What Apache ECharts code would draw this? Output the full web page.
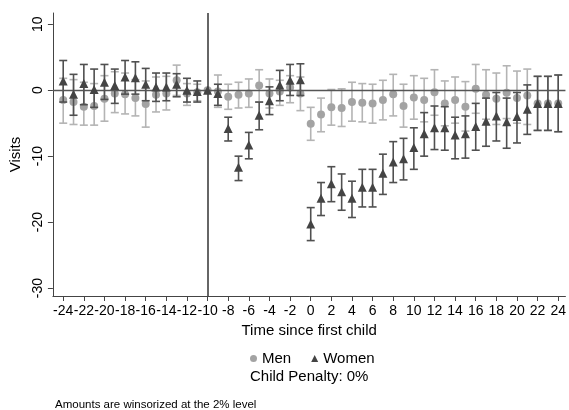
<!DOCTYPE html>
<html>
<head>
<meta charset="utf-8">
<script src="https://cdn.jsdelivr.net/npm/echarts@6/dist/echarts.min.js"></script>
<style>
  html, body { margin: 0; padding: 0; background: #fff; }
  #main { width: 569px; height: 410px; }
</style>
</head>
<body>
<div id="main"></div>
<script>
// periods relative to first child
var periods = [-24,-23,-22,-21,-20,-19,-18,-17,-16,-15,-14,-13,-12,-11,-10,-9,-8,-7,-6,-5,-4,-3,-2,-1,
  0,1,2,3,4,5,6,7,8,9,10,11,12,13,14,15,16,17,18,19,20,21,22,23,24];

// men: estimate and 95% interval
var menVal = [-1.5,-1.8,-2.5,-2.4,-1.3,-0.5,-0.6,-1.2,-2.1,-0.7,-0.5,1.5,-0.5,-0.3,0,-0.2,-1.0,-0.7,-0.5,0.7,-0.5,-0.2,0.4,-0.5,
  -5.1,-3.7,-2.6,-2.7,-1.8,-1.9,-2.0,-1.5,-0.6,-2.4,-1.1,-1.5,-0.3,-2.0,-1.5,-2.5,0.2,-0.7,-1.3,-0.4,-1.2,-0.8,-2.0,-2.0,-2.0];
var menLo = [-5.0,-5.2,-5.3,-5.3,-4.7,-3.4,-3.6,-3.9,-5.6,-3.3,-3.0,-0.8,-2.3,-1.6,null,-2.6,-2.9,-2.7,-2.6,-1.8,-2.7,-2.3,-1.9,-3.1,
  -7.6,-6.3,-5.3,-5.5,-4.7,-4.8,-5.0,-4.5,-3.9,-5.6,-4.4,-4.8,-3.8,-5.4,-5.0,-6.2,-3.5,-4.4,-5.2,-4.3,-5.0,-5.2,-6.1,-6.1,-6.3];
var menHi = [1.8,1.6,1.2,1.0,2.2,2.8,2.6,1.6,1.4,2.0,2.1,3.8,1.0,0.9,null,2.3,0.9,1.2,1.7,3.1,1.7,1.5,2.2,2.0,
  -2.6,-1.2,0.1,0.2,1.2,1.0,0.9,1.5,2.4,0.9,2.2,1.8,3.1,1.4,2.0,1.3,3.9,3.1,2.6,3.7,2.9,3.2,2.1,2.1,2.3];

// women: estimate and 95% interval
var womenVal = [1.4,-0.6,1.0,0.1,1.2,0.7,2.0,1.9,0.9,0.5,0.5,0.9,0.0,-0.2,0,-0.5,-5.8,-11.7,-8.3,-3.8,-1.6,0.8,1.5,1.6,
  -20.3,-16.4,-14.2,-15.4,-16.4,-14.7,-14.7,-12.6,-10.9,-10.4,-8.7,-6.6,-5.7,-5.7,-6.8,-6.6,-5.5,-4.7,-3.9,-4.8,-4.0,-2.9,-2.0,-2.0,-2.0];
var womenLo = [-1.8,-3.8,-2.2,-2.6,-1.4,-2.0,-0.6,-0.6,-1.6,-1.7,-1.6,-1.0,-1.8,-1.8,null,-2.3,-7.7,-13.7,-10.4,-6.0,-3.7,-1.6,-0.8,-0.8,
  -22.8,-19.0,-16.9,-18.2,-19.3,-17.7,-17.7,-15.8,-14.0,-13.6,-12.0,-10.0,-9.0,-9.1,-10.4,-10.3,-9.1,-8.5,-7.7,-8.8,-8.0,-6.7,-6.1,-6.1,-6.3];
var womenHi = [4.5,2.4,3.9,3.2,3.9,3.2,4.5,4.3,3.3,2.6,2.6,2.5,1.8,1.4,null,0.9,-4.1,-10.0,-6.4,-1.8,0.5,3.0,3.9,4.0,
  -17.8,-14.0,-11.6,-12.7,-13.8,-12.0,-12.0,-9.7,-7.8,-7.3,-5.7,-3.4,-2.4,-2.5,-4.1,-3.9,-2.0,-1.2,-0.35,-1.2,-0.35,0.8,2.1,2.1,2.3];

var xTicks = [-24,-22,-20,-18,-16,-14,-12,-10,-8,-6,-4,-2,0,2,4,6,8,10,12,14,16,18,20,22,24];
var yTicks = [-30,-20,-10,0,10];

var FONT = 'Liberation Sans, Arial, sans-serif';

function pairs(vals) {
    var out = [];
    for (var i = 0; i < periods.length; i++) out.push([periods[i], vals[i]]);
    return out;
}
function ranges(lo, hi) {
    var out = [];
    for (var i = 0; i < periods.length; i++) {
        if (lo[i] === null) continue;
        out.push([periods[i], lo[i], hi[i]]);
    }
    return out;
}
// error bar with caps
function errorBars(color) {
    return function (params, api) {
        var x = api.value(0);
        var top = api.coord([x, api.value(2)]);
        var bot = api.coord([x, api.value(1)]);
        var hw = 4;
        var st = { stroke: color, lineWidth: 1.6 };
        return {
            type: 'group',
            children: [
                { type: 'line', shape: { x1: top[0], y1: top[1], x2: bot[0], y2: bot[1] }, style: st },
                { type: 'line', shape: { x1: top[0] - hw, y1: top[1], x2: top[0] + hw, y2: top[1] }, style: st },
                { type: 'line', shape: { x1: bot[0] - hw, y1: bot[1], x2: bot[0] + hw, y2: bot[1] }, style: st }
            ]
        };
    };
}

var chart = echarts.init(document.getElementById('main'));
chart.setOption({
    animation: false,
    grid: { left: 52, right: 0, top: 13, bottom: 114, containLabel: false },
    xAxis: {
        type: 'value', min: -25, max: 24.7,
        name: 'Time since first child', nameLocation: 'middle', nameGap: 24,
        nameTextStyle: { fontFamily: FONT, fontSize: 15, color: '#000' },
        axisLine: { onZero: false, lineStyle: { color: '#444' } },
        axisTick: { customValues: xTicks, length: 5, lineStyle: { color: '#444' } },
        axisLabel: { customValues: xTicks, fontFamily: FONT, fontSize: 14, color: '#000', margin: 8 },
        splitLine: { show: false }
    },
    yAxis: {
        type: 'value', min: -31.2, max: 11.7,
        name: 'Visits', nameLocation: 'middle', nameGap: 24,
        nameTextStyle: { fontFamily: FONT, fontSize: 15, color: '#000' },
        axisLine: { show: true, onZero: false, lineStyle: { color: '#444' } },
        axisTick: { show: true, customValues: yTicks, length: 5, lineStyle: { color: '#444' } },
        axisLabel: { customValues: yTicks, rotate: 90, fontFamily: FONT, fontSize: 14, color: '#000', margin: 8 },
        splitLine: { show: false }
    },
    legend: {
        left: 245, top: 346,
        itemGap: 20, itemWidth: 7, itemHeight: 7,
        textStyle: { fontFamily: FONT, fontSize: 15, color: '#000' },
        data: [
            { name: 'Men', icon: 'circle', itemStyle: { color: '#a3a3a3' } },
            { name: 'Women', icon: 'triangle', itemStyle: { color: '#444' } }
        ]
    },
    graphic: [
        { type: 'text', left: 250, top: 369,
          style: { text: 'Child Penalty: 0%', font: '15px ' + FONT, fill: '#000' } },
        { type: 'text', left: 55, top: 399,
          style: { text: 'Amounts are winsorized at the 2% level', font: '11.5px ' + FONT, fill: '#000' } }
    ],
    series: [
        {
            name: 'Men CI', type: 'custom', data: ranges(menLo, menHi),
            renderItem: errorBars('#b4b4b4'), z: 2,
            markLine: {
                silent: true, symbol: 'none', label: { show: false },
                data: [
                    { yAxis: 0, lineStyle: { color: '#555', width: 1.3, type: 'solid' } },
                    { xAxis: -10, lineStyle: { color: '#333', width: 1.5, type: 'solid' } }
                ]
            }
        },
        {
            name: 'Men', type: 'scatter', data: pairs(menVal), symbol: 'circle', symbolSize: 8,
            itemStyle: { color: '#a3a3a3', opacity: 1 }, z: 3
        },
        {
            name: 'Women CI', type: 'custom', data: ranges(womenLo, womenHi),
            renderItem: errorBars('#505050'), z: 4
        },
        {
            name: 'Women', type: 'scatter', data: pairs(womenVal), symbol: 'triangle', symbolSize: 9,
            itemStyle: { color: '#444', opacity: 1 }, z: 5
        }
    ]
});
</script>
</body>
</html>
